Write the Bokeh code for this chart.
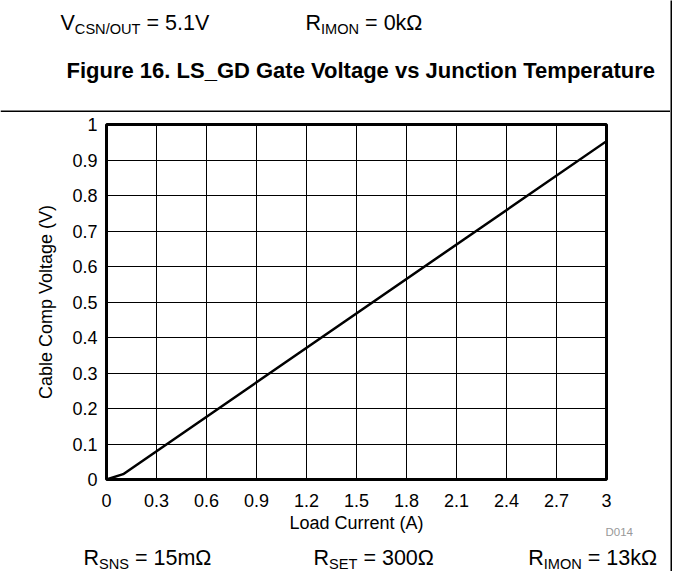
from bokeh.plotting import figure
from bokeh.layouts import row, column
from bokeh.models import Range1d, FixedTicker
from bokeh.core.properties import value
from bokeh.embed import file_html
from bokeh.resources import INLINE

# ---- data ----
load_current = [0.0, 0.1, 3.0]
cable_comp_voltage = [0.0, 0.015, 0.953]
x_ticks = [0, 0.3, 0.6, 0.9, 1.2, 1.5, 1.8, 2.1, 2.4, 2.7, 3]
x_tick_labels = ["0", "0.3", "0.6", "0.9", "1.2", "1.5", "1.8", "2.1", "2.4", "2.7", "3"]
y_ticks = [0, 0.1, 0.2, 0.3, 0.4, 0.5, 0.6, 0.7, 0.8, 0.9, 1]
y_tick_labels = ["0", "0.1", "0.2", "0.3", "0.4", "0.5", "0.6", "0.7", "0.8", "0.9", "1"]
x_title = "Load Current (A)"
y_title = "Cable Comp Voltage (V)"
fig_title = "Figure 16. LS_GD Gate Voltage vs Junction Temperature"
top_notes = [[("V", False), ("CSN/OUT", True), (" = 5.1V", False)],
             [("R", False), ("IMON", True), (" = 0k\u03a9", False)]]
bottom_notes = [[("R", False), ("SNS", True), (" = 15m\u03a9", False)],
                [("R", False), ("SET", True), (" = 300\u03a9", False)],
                [("R", False), ("IMON", True), (" = 13k\u03a9", False)]]
code_label = "D014"

FONT = "Liberation Sans"
TOTAL_H = 571
PW = 670            # width of the left column (a 2px border bar follows)
HEAD_H = 112        # header strip height
L, R = 106, 606     # frame left / right inside the chart figure
TOP_GAP = 12        # frame top below the header
FRAME_H = 355
BOT_GAP = 35
MAIN_H = TOP_GAP + FRAME_H + BOT_GAP
FOOT_Y0 = HEAD_H + MAIN_H
FOOT_H = TOTAL_H - FOOT_Y0


def no_align(f):
    if "frame_align" in f.properties():
        f.frame_align = False


def blank(width, height, y0):
    f = figure(width=width, height=height, output_backend="svg", toolbar_location=None,
               x_range=Range1d(0, width), y_range=Range1d(y0 + height, y0),
               x_axis_location=None, y_axis_location=None, min_border=0)
    f.outline_line_color = None
    f.grid.visible = False
    f.background_fill_color = "white"
    f.border_fill_color = "white"
    no_align(f)
    return f


# Arial / Liberation Sans advance widths (per 1000 em)
AW = {' ': 278, '=': 584, '.': 278, '/': 278, 'A': 667, 'C': 722, 'E': 667, 'I': 278,
      'M': 833, 'N': 722, 'O': 778, 'R': 722, 'S': 667, 'T': 611, 'U': 722, 'V': 667,
      'k': 500, 'm': 833, '\u03a9': 768}
for d in "0123456789":
    AW[d] = 556


def tw(s, size):
    return sum(AW.get(c, 556) for c in s) * size / 1000.0


def put(f, text, x, y, size, bold=False, color="black", align="left", baseline="alphabetic"):
    f.text(x=[x], y=[y], text=[text], text_font=value(FONT),
           text_font_size=value(f"{size}px"),
           text_font_style="bold" if bold else "normal",
           text_color=color, text_align=align, text_baseline=baseline)


NOTE_SIZE = 21.5
SUB_RATIO = 0.68
SUB_DROP = 6


def note(f, parts, x, y):
    for txt, is_sub in parts:
        s = round(NOTE_SIZE * SUB_RATIO, 1) if is_sub else NOTE_SIZE
        core = txt.lstrip(" ")
        lead = tw(txt[:len(txt) - len(core)], s)   # SVG drops leading spaces
        put(f, core, x + lead, y + (SUB_DROP if is_sub else 0), s)
        x += tw(txt, s)


def width_of(parts):
    return sum(tw(t, round(NOTE_SIZE * SUB_RATIO, 1) if s else NOTE_SIZE) for t, s in parts)


# ---- header ----
head = blank(PW, HEAD_H, 0)
note(head, top_notes[0], 60, 22)
note(head, top_notes[1], 305, 22)
put(head, fig_title, 66, 70, 22, bold=True)
head.segment(x0=[0], y0=[110.75], x1=[PW], y1=[110.75], line_color="black", line_width=1.5)

# ---- chart ----
p = figure(width=PW, height=MAIN_H, output_backend="svg", toolbar_location=None,
           x_range=Range1d(0, 3), y_range=Range1d(0, 1),
           min_border_left=L, min_border_right=PW - R,
           min_border_top=TOP_GAP, min_border_bottom=BOT_GAP)
no_align(p)
p.background_fill_color = "white"
p.border_fill_color = "white"
p.outline_line_color = "black"
p.outline_line_width = 3

p.line(load_current, cable_comp_voltage, line_width=2.5, color="black")

for ax, ticks, labels in ((p.xaxis, x_ticks, x_tick_labels), (p.yaxis, y_ticks, y_tick_labels)):
    ax.ticker = FixedTicker(ticks=ticks)
    ax.major_label_overrides = dict(zip(ticks, labels))
    ax.axis_line_color = None
    ax.major_tick_line_color = None
    ax.minor_tick_line_color = None
    ax.major_tick_out = 0
    ax.major_tick_in = 0
    ax.major_label_text_font = FONT
    ax.major_label_text_font_size = "18px"
    ax.major_label_text_color = "black"
    ax.axis_label_text_font = FONT
    ax.axis_label_text_font_size = "18px"
    ax.axis_label_text_font_style = "normal"
    ax.axis_label_text_color = "black"

p.yaxis.axis_label = y_title
p.xaxis.major_label_standoff = 14
p.yaxis.major_label_standoff = 9
p.yaxis.axis_label_standoff = 13

for g in (p.xgrid, p.ygrid):
    g.grid_line_color = "black"
    g.grid_line_width = 1
p.xgrid.ticker = FixedTicker(ticks=x_ticks)
p.ygrid.ticker = FixedTicker(ticks=y_ticks)

# ---- footer ----
foot = blank(PW, FOOT_H, FOOT_Y0)
put(foot, x_title, (L + R) / 2, 522, 18, align="center", baseline="middle")
put(foot, code_label, 605, 531, 11.5, color="#999999", baseline="middle")
note(foot, bottom_notes[0], 83, 557)
note(foot, bottom_notes[1], 313, 557)
note(foot, bottom_notes[2], 657 - width_of(bottom_notes[2]), 557)

# ---- right border bar ----
bar = figure(width=2, height=TOTAL_H, output_backend="svg", toolbar_location=None,
             x_axis_location=None, y_axis_location=None, min_border=0)
bar.outline_line_color = None
bar.grid.visible = False
bar.background_fill_color = "black"
bar.border_fill_color = "black"
no_align(bar)

layout = row(column(head, p, foot, spacing=0), bar, spacing=0)
open("out.html", "w").write(file_html(layout, INLINE))
